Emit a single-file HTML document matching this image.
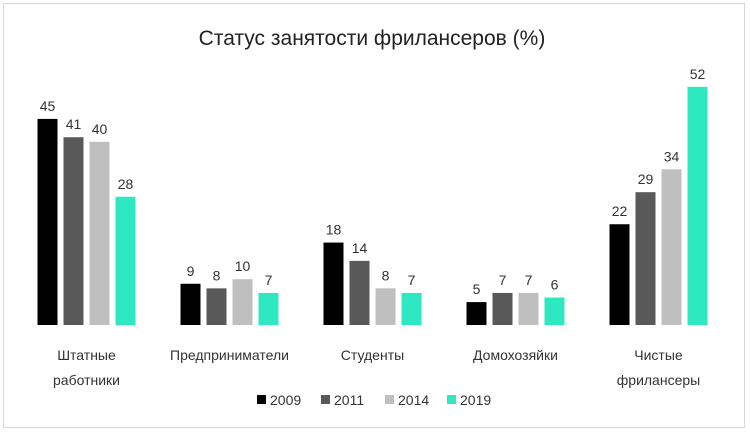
<!DOCTYPE html>
<html><head><meta charset="utf-8"><style>
body{margin:0;background:#fff;font-family:"Liberation Sans","DejaVu Sans",sans-serif;}
svg text{font-family:"Liberation Sans","DejaVu Sans",sans-serif;}
</style></head><body>
<svg id="chart" width="750" height="435" xmlns="http://www.w3.org/2000/svg">
<rect x="3.5" y="3.5" width="741" height="424" fill="#fff" stroke="#d9d9d9"/>
<text x="372" y="45" text-anchor="middle" font-size="21" fill="#222">Статус занятости фрилансеров (%)</text>
<g id="bars"></g>
<g id="legend"></g>
</svg>
<script>
const categories=[["Штатные","работники"],["Предприниматели"],["Студенты"],["Домохозяйки"],["Чистые","фрилансеры"]];
const years=["2009","2011","2014","2019"];
const v2009=[45,9,18,5,22];
const v2011=[41,8,14,7,29];
const v2014=[40,10,8,7,34];
const v2019=[28,7,7,6,52];
const series=[v2009,v2011,v2014,v2019];
const colors=["#000000","#595959","#bfbfbf","#2ee8c2"];
const NS="http://www.w3.org/2000/svg";
const base=325, scale=4.58, groupW=143, x0=15, barW=20, step=26;
const yS=v=>base-v*scale;
const xG=i=>x0+groupW*i+groupW/2;
const g=document.getElementById('bars');
function mk(tag,attrs,parent){const e=document.createElementNS(NS,tag);for(const k in attrs)e.setAttribute(k,attrs[k]);parent.appendChild(e);return e;}
categories.forEach((c,i)=>{
  series.forEach((s,j)=>{
    const x=xG(i)-2*step+j*step+3;
    const r=mk('rect',{x:x,y:yS(s[i]),width:barW,height:s[i]*scale,fill:colors[j]},g);
    
    
    const t=mk('text',{x:x+barW/2,y:yS(s[i])-8,'text-anchor':'middle','font-size':'14',fill:'#333'},g);
    t.textContent=s[i];
    
    
  });
  c.forEach((line,k)=>{
    const t=mk('text',{x:xG(i),y:360+k*25,'text-anchor':'middle','font-size':'14',fill:'#333'},g);
    t.textContent=line;
    
    
  });
});
const lg=document.getElementById('legend');
const lx=[257,321,385,447];
years.forEach((y,j)=>{
  const r=mk('rect',{x:lx[j],y:395,width:9,height:9,fill:colors[j]},lg);
  
  
  const t=mk('text',{x:lx[j]+13,y:405,'font-size':'14',fill:'#333'},lg);
  t.textContent=y;
  
  
});
</script>
</body></html>
